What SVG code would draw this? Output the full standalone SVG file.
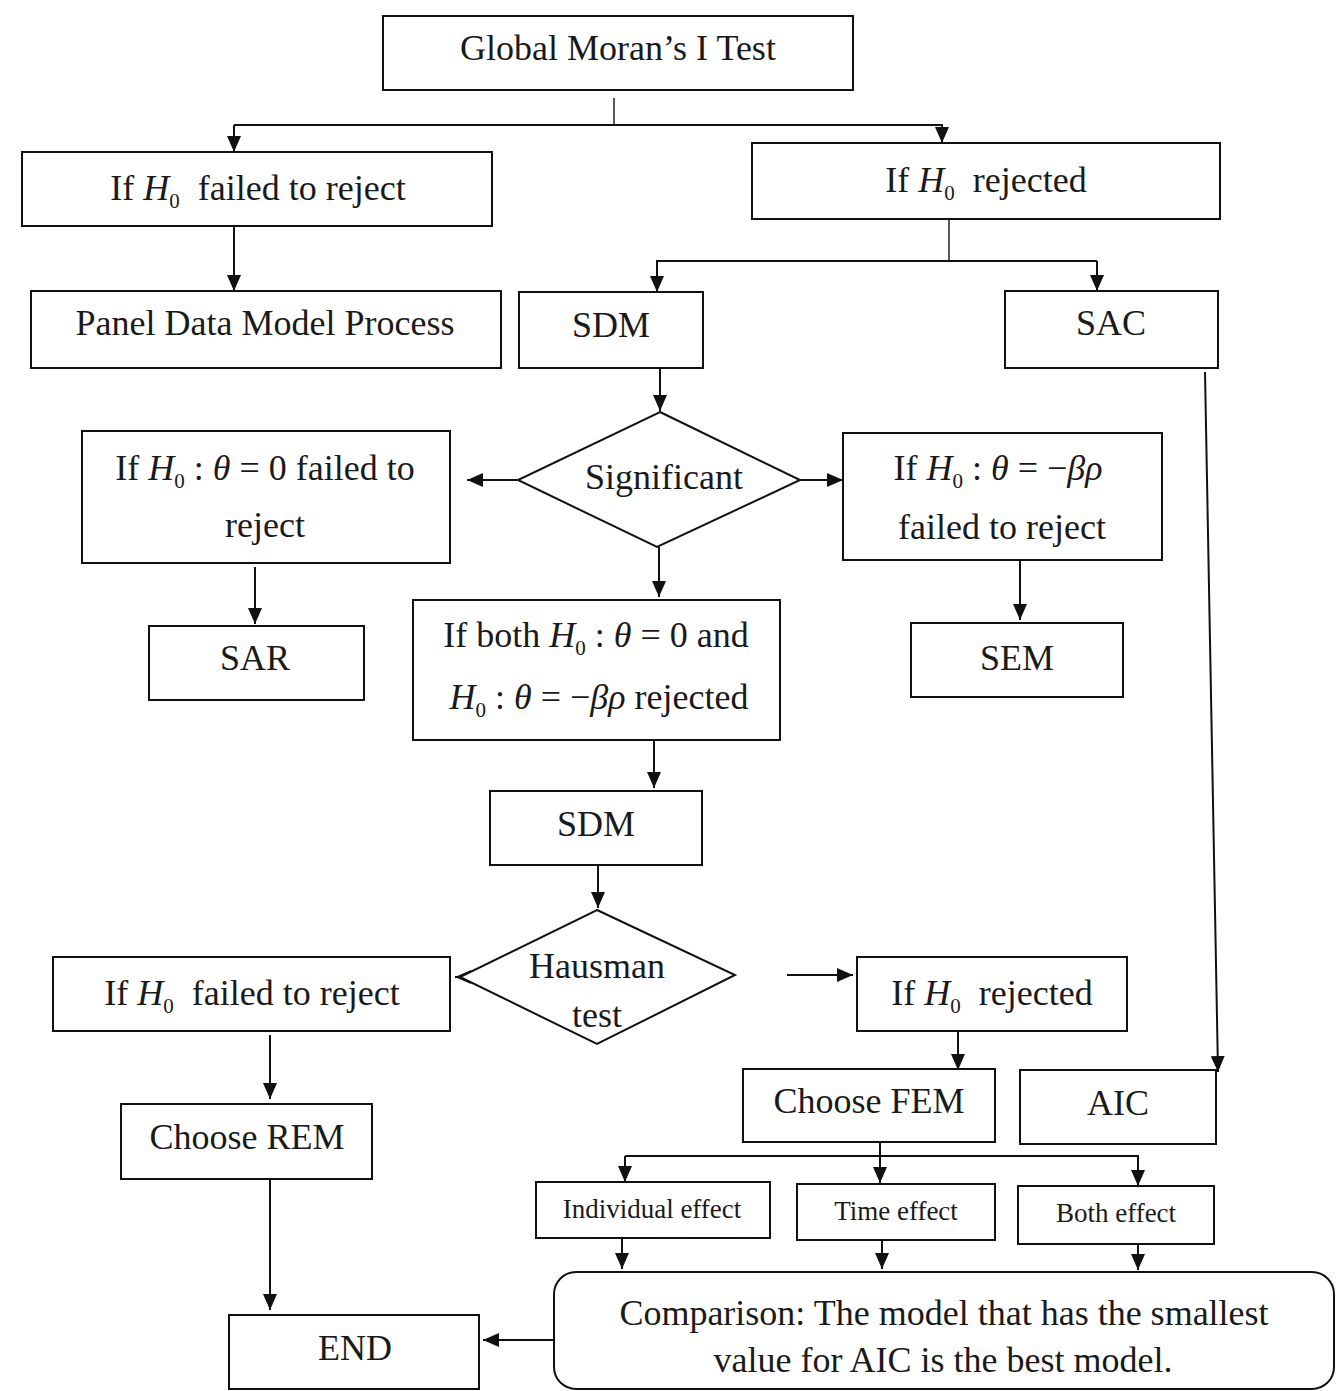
<svg xmlns="http://www.w3.org/2000/svg" width="1342" height="1391" viewBox="0 0 1342 1391">
<style>
.b{fill:#fff;stroke:#111;stroke-width:2}
.t{font-family:"Liberation Serif","Times New Roman",serif;font-size:36px;fill:#1a1a1a;text-anchor:middle}
.s{font-size:27px}
.i{font-style:italic}
.c{fill:none;stroke:#111;stroke-width:2}
.n{fill:none;stroke:#222;stroke-width:1.5}
</style>
<defs>
<marker id="a" markerUnits="userSpaceOnUse" markerWidth="16" markerHeight="14" refX="16" refY="7" orient="auto">
<path d="M0,0 L16,7 L0,14 z" fill="#111"/>
</marker>
</defs>
<rect width="1342" height="1391" fill="#fff"/>
<g id="connectors">
<line class="n" x1="614" y1="98" x2="614" y2="125"/>
<polyline class="c" points="234,125 942,125 942,143" marker-end="url(#a)"/>
<line class="c" x1="234" y1="125" x2="234" y2="152" marker-end="url(#a)"/>
<line class="c" x1="234" y1="226" x2="234" y2="291" marker-end="url(#a)"/>
<line class="n" x1="949" y1="219" x2="949" y2="261"/>
<polyline class="c" points="1097,261 657,261 657,292" marker-end="url(#a)"/>
<line class="c" x1="1097" y1="261" x2="1097" y2="291" marker-end="url(#a)"/>
<line class="c" x1="660" y1="368" x2="660" y2="411" marker-end="url(#a)"/>
<line class="c" x1="518" y1="480" x2="467" y2="480" marker-end="url(#a)"/>
<line class="c" x1="800" y1="480" x2="843" y2="480" marker-end="url(#a)"/>
<line class="c" x1="255" y1="567" x2="255" y2="624" marker-end="url(#a)"/>
<line class="c" x1="1020" y1="560" x2="1020" y2="620" marker-end="url(#a)"/>
<line class="c" x1="659" y1="547" x2="659" y2="597" marker-end="url(#a)"/>
<line class="c" x1="654" y1="740" x2="654" y2="788" marker-end="url(#a)"/>
<line class="c" x1="598" y1="865" x2="598" y2="908" marker-end="url(#a)"/>
<line class="c" x1="511" y1="977" x2="455" y2="977" marker-end="url(#a)"/>
<line class="c" x1="787" y1="975" x2="853" y2="975" marker-end="url(#a)"/>
<line class="c" x1="270" y1="1035" x2="270" y2="1099" marker-end="url(#a)"/>
<line class="c" x1="270" y1="1179" x2="270" y2="1310" marker-end="url(#a)"/>
<line class="c" x1="958" y1="1031" x2="958" y2="1070" marker-end="url(#a)"/>
<line class="c" x1="1205" y1="372" x2="1218" y2="1072" marker-end="url(#a)"/>
<line class="c" x1="880" y1="1142" x2="880" y2="1183" marker-end="url(#a)"/>
<polyline class="c" points="625,1156 1138,1156 1138,1186" marker-end="url(#a)"/>
<line class="c" x1="625" y1="1156" x2="625" y2="1182" marker-end="url(#a)"/>
<line class="c" x1="622" y1="1238" x2="622" y2="1269" marker-end="url(#a)"/>
<line class="c" x1="882" y1="1240" x2="882" y2="1269" marker-end="url(#a)"/>
<line class="c" x1="1138" y1="1244" x2="1138" y2="1270" marker-end="url(#a)"/>
<line class="c" x1="554" y1="1340" x2="483" y2="1340" marker-end="url(#a)"/>
</g>
<g id="moran"><rect class="b" x="383" y="16" width="470" height="74"/><text class="t" x="618" y="60">Global Moran’s I Test</text></g>
<g id="h0fail1"><rect class="b" x="22" y="152" width="470" height="74"/><text class="t" x="258" y="200">If <tspan class="i">H</tspan><tspan font-size="21" dy="8">0</tspan><tspan dy="-8" xml:space="preserve">  failed to reject</tspan></text></g>
<g id="h0rej1"><rect class="b" x="752" y="143" width="468" height="76"/><text class="t" x="986" y="192">If <tspan class="i">H</tspan><tspan font-size="21" dy="8">0</tspan><tspan dy="-8" xml:space="preserve">  rejected</tspan></text></g>
<g id="panel"><rect class="b" x="31" y="291" width="470" height="77"/><text class="t" x="265" y="335">Panel Data Model Process</text></g>
<g id="sdm1"><rect class="b" x="519" y="292" width="184" height="76"/><text class="t" x="611" y="337">SDM</text></g>
<g id="sac"><rect class="b" x="1005" y="291" width="213" height="77"/><text class="t" x="1111" y="335">SAC</text></g>
<g id="significant"><polygon class="b" points="660,412 800,480 657,547 518,480"/><text class="t" x="664" y="489">Significant</text></g>
<g id="theta0"><rect class="b" x="82" y="431" width="368" height="132"/><text class="t" x="265" y="480">If <tspan class="i">H</tspan><tspan font-size="21" dy="8">0</tspan><tspan dy="-8"> : </tspan><tspan class="i">θ</tspan> = 0 failed to</text><text class="t" x="265" y="537">reject</text></g>
<g id="thetabr"><rect class="b" x="843" y="433" width="319" height="127"/><text class="t" x="998" y="480">If <tspan class="i">H</tspan><tspan font-size="21" dy="8">0</tspan><tspan dy="-8"> : </tspan><tspan class="i">θ</tspan> = −<tspan class="i">βρ</tspan></text><text class="t" x="1002" y="539">failed to reject</text></g>
<g id="sar"><rect class="b" x="149" y="626" width="215" height="74"/><text class="t" x="255" y="670">SAR</text></g>
<g id="sem"><rect class="b" x="911" y="623" width="212" height="74"/><text class="t" x="1017" y="670">SEM</text></g>
<g id="both"><rect class="b" x="413" y="600" width="367" height="140"/><text class="t" x="596" y="647">If both <tspan class="i">H</tspan><tspan font-size="21" dy="8">0</tspan><tspan dy="-8"> : </tspan><tspan class="i">θ</tspan> = 0 and</text><text class="t" x="599" y="709"><tspan class="i">H</tspan><tspan font-size="21" dy="8">0</tspan><tspan dy="-8"> : </tspan><tspan class="i">θ</tspan> = −<tspan class="i">βρ</tspan> rejected</text></g>
<g id="sdm2"><rect class="b" x="490" y="791" width="212" height="74"/><text class="t" x="596" y="836">SDM</text></g>
<g id="hausman"><polygon class="b" points="597,910 735,975 597,1044 460,977"/><text class="t" x="597" y="978">Hausman</text><text class="t" x="597" y="1027">test</text></g>
<g id="h0fail2"><rect class="b" x="53" y="957" width="397" height="74"/><text class="t" x="252" y="1005">If <tspan class="i">H</tspan><tspan font-size="21" dy="8">0</tspan><tspan dy="-8" xml:space="preserve">  failed to reject</tspan></text></g>
<g id="h0rej2"><rect class="b" x="857" y="957" width="270" height="74"/><text class="t" x="992" y="1005">If <tspan class="i">H</tspan><tspan font-size="21" dy="8">0</tspan><tspan dy="-8" xml:space="preserve">  rejected</tspan></text></g>
<g id="rem"><rect class="b" x="121" y="1104" width="251" height="75"/><text class="t" x="247" y="1149">Choose REM</text></g>
<g id="fem"><rect class="b" x="743" y="1069" width="252" height="73"/><text class="t" x="869" y="1113">Choose FEM</text></g>
<g id="aic"><rect class="b" x="1020" y="1070" width="196" height="74"/><text class="t" x="1118" y="1115">AIC</text></g>
<g id="individual"><rect class="b" x="536" y="1182" width="234" height="56"/><text class="t s" x="652" y="1218">Individual effect</text></g>
<g id="time"><rect class="b" x="797" y="1184" width="198" height="56"/><text class="t s" x="896" y="1220">Time effect</text></g>
<g id="botheff"><rect class="b" x="1018" y="1186" width="196" height="58"/><text class="t s" x="1116" y="1222">Both effect</text></g>
<g id="comparison"><rect class="b" x="554" y="1272" width="780" height="117" rx="22"/><text class="t" x="944" y="1325">Comparison: The model that has the smallest</text><text class="t" x="943" y="1372">value for AIC is the best model.</text></g>
<g id="end"><rect class="b" x="229" y="1315" width="250" height="74"/><text class="t" x="355" y="1360">END</text></g>
</svg>
